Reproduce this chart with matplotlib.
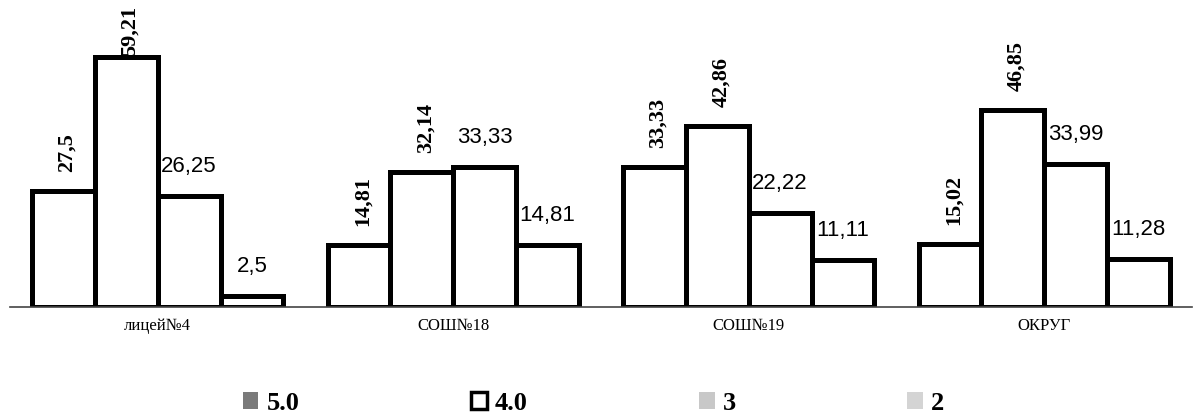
import matplotlib.pyplot as plt
import matplotlib.patches as mpatches
import numpy as np

# data
categories = ['лицей№4', 'СОШ№18', 'СОШ№19', 'ОКРУГ']
series_names = ['5.0', '4.0', '3', '2']
grade5 = [27.5, 14.81, 33.33, 15.02]
grade4 = [59.21, 32.14, 42.86, 46.85]
grade3 = [26.25, 33.33, 22.22, 33.99]
grade2 = [2.5, 14.81, 11.11, 11.28]

series = [grade5, grade4, grade3, grade2]
legend_faces = ['#7a7a7a', 'white', '#c8c8c8', '#d4d4d4']
legend_hatch = ['....', None, '....', '....']

fig = plt.figure(figsize=(11.94, 4.2), dpi=100)
ax = fig.add_axes([10 / 1194, 113 / 420, 1182 / 1194, 295 / 420])

x = np.arange(len(categories))
w = 0.2125

for i, vals in enumerate(series):
    pos = x + (i - 1.5) * w
    ax.bar(pos, vals, width=w, facecolor='white', edgecolor='black', linewidth=3.6, zorder=2)

    for px, v in zip(pos, vals):
        txt = f"{v:g}".replace('.', ',')
        if i < 2:
            # rotated bold labels, pushed down if they hit the top
            ax.text(px + 0.012, min(v + 4.5, 59.5), txt, rotation=90, ha='center', va='bottom',
                    fontsize=16, fontweight='bold', family='Liberation Serif')
        else:
            ax.text(px, v + 7, txt, ha='center', va='center', fontsize=16,
                    family='Liberation Sans')

ax.set_xlim(-0.5, 3.5)
ax.set_ylim(0, 70)
ax.set_xticks(x)
ax.set_xticklabels(categories, family='Liberation Serif', fontsize=12)
ax.tick_params(axis='x', length=0, pad=8)
ax.set_yticks([])
for s in ['top', 'right', 'left']:
    ax.spines[s].set_visible(False)
ax.spines['bottom'].set_color('#444444')
ax.spines['bottom'].set_linewidth(1.2)

handles = []
for fc, h in zip(legend_faces, legend_hatch):
    if fc == 'white':
        handles.append(mpatches.Patch(facecolor='white', edgecolor='black', linewidth=2.5))
    else:
        handles.append(mpatches.Patch(facecolor=fc, edgecolor=fc, hatch=h, linewidth=0))

fig.legend(handles, series_names, loc='center', bbox_to_anchor=(0.497, 17 / 420), ncol=4,
           frameon=False, columnspacing=6.5, handlelength=0.6, handleheight=0.6,
           handletextpad=0.3, prop={'family': 'Liberation Serif', 'weight': 'bold', 'size': 19})

plt.savefig('out.png', dpi=100)
